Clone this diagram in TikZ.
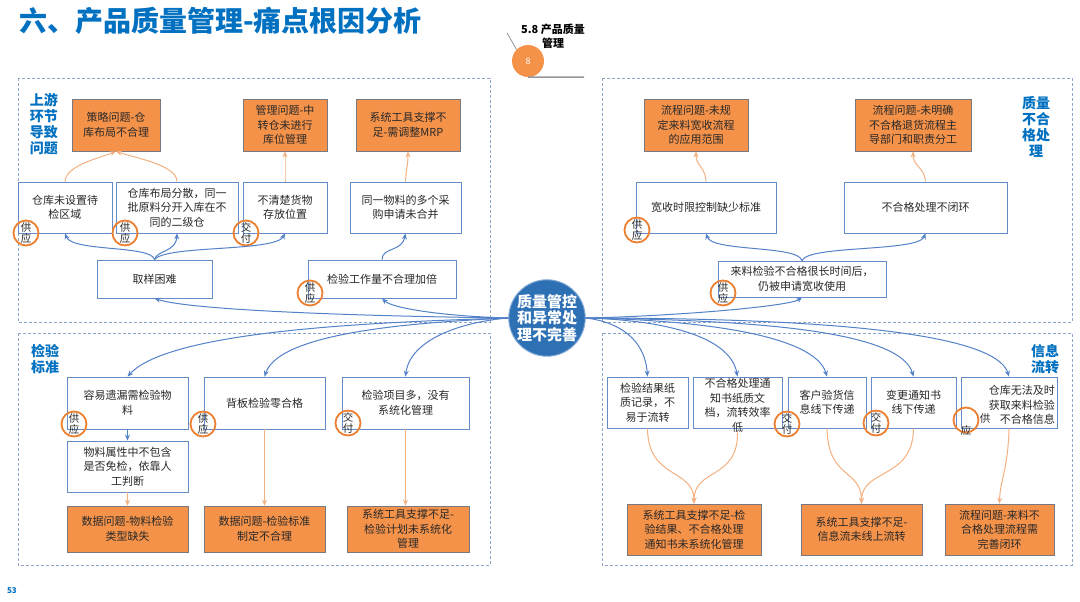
\documentclass[tikz,border=0pt]{standalone}
\usepackage{fontspec}
\setmainfont{Noto Sans CJK SC}
\usetikzlibrary{arrows.meta}
\definecolor{tblue}{RGB}{0,112,192}
\definecolor{lineblue}{RGB}{84,130,200}
\definecolor{boxblue}{RGB}{100,140,200}
\definecolor{dashc}{RGB}{140,165,200}
\definecolor{ofill}{RGB}{244,146,74}
\definecolor{oborder}{RGB}{120,120,130}
\definecolor{oarrow}{RGB}{244,176,128}
\definecolor{ring}{RGB}{236,128,48}
\definecolor{cfill}{RGB}{46,112,180}
\definecolor{cring}{RGB}{130,170,215}
\definecolor{txt}{RGB}{40,40,40}
\definecolor{ggray}{RGB}{150,150,150}
\tikzset{
 body/.style={font=\fontsize{11}{14.5}\selectfont, text=txt, align=center, inner sep=0pt},
 wbox/.style={body, draw=boxblue, line width=0.8pt, fill=white},
 obox/.style={body, draw=oborder, line width=0.6pt, fill=ofill},
 tag/.style={circle, draw=ring, line width=1.8pt, minimum size=25pt, inner sep=0pt, font=\fontsize{10.5}{11.5}\selectfont, align=center, text=txt},
 lab/.style={font=\bfseries\fontsize{14}{16}\selectfont, text=tblue, align=center, inner sep=0pt},
 quad/.style={draw=dashc, dash pattern=on 3pt off 2pt, line width=0.7pt},
 barrow/.style={draw=lineblue, line width=1pt, -{Stealth[length=6pt,width=5pt]}},
 oarr/.style={draw=oarrow, line width=1pt, -{Stealth[length=6pt,width=5pt]}},
}
\begin{document}
\begin{tikzpicture}[x=1pt,y=-1pt]
\useasboundingbox[fill=white] (0,0) rectangle (1080,602);

% title
\node[anchor=west, font=\bfseries\fontsize{28}{30}\selectfont, text=tblue, inner sep=0pt] (title) at (19,21) {六、产品质量管理-痛点根因分析};
\node[font=\bfseries\fontsize{11}{14}\selectfont, align=center, inner sep=0pt] (sec) at (553,36) {5.8 产品质量\\管理};
\node[circle, fill=ofill, minimum size=32pt, inner sep=0pt, text=white, font=\fontsize{9}{10}\selectfont] (eight) at (528,61) {8};
\coordinate (gl1) at (507,33);
\coordinate (gl2) at (584,77);
\draw[ggray, line width=0.8pt] (eight.135) -- (gl1);
\draw[ggray, line width=1.5pt] (eight.south) -- (gl2);

% quadrants
\draw[quad] (18,78) rectangle (490,322);
\draw[quad] (602,78) rectangle (1072,322);
\draw[quad] (18,333) rectangle (490,565);
\draw[quad] (602,333) rectangle (1072,565);

% labels
\node[lab] (lab1) at (44,124) {上游\\环节\\导致\\问题};
\node[lab] (lab2) at (1036,127) {质量\\不合\\格处\\理};
\node[lab] (lab3) at (45,359) {检验\\标准};
\node[lab] (lab4) at (1045,359) {信息\\流转};

% center
\node[circle, fill=cfill, draw=cring, line width=1pt, minimum size=70pt, inner sep=0pt, text=white, font=\bfseries\fontsize{15}{16.5}\selectfont, align=center] (c) at (547,318) {质量管控\\和异常处\\理不完善};

% top-left
\node[obox, minimum width=88, minimum height=52] (o1) at (116,125) {策略问题-仓\\库布局不合理};
\node[obox, minimum width=84, minimum height=52] (o2) at (285,125) {管理问题-中\\转仓未进行\\库位管理};
\node[obox, minimum width=104, minimum height=52] (o3) at (408,125) {系统工具支撑不\\足-需调整MRP};
\node[wbox, minimum width=94, minimum height=51] (w1) at (65,207.5) {仓库未设置待\\检区域};
\node[wbox, minimum width=122, minimum height=51] (w2) at (177,207.5) {仓库布局分散，同一\\批原料分开入库在不\\同的二级仓};
\node[wbox, minimum width=84, minimum height=51] (w3) at (285,207.5) {不清楚货物\\存放位置};
\node[wbox, minimum width=111, minimum height=51] (w4) at (405.5,207.5) {同一物料的多个采\\购申请未合并};
\node[wbox, minimum width=115, minimum height=38] (w5) at (154.5,279) {取样困难};
\node[wbox, minimum width=148, minimum height=38] (w6) at (382,279) {检验工作量不合理加倍};
\node[tag] (t1) at (26,233) {供\\应};
\node[tag] (t2) at (125,233) {供\\应};
\node[tag] (t3) at (246,233) {交\\付};
\node[tag] (t4) at (310,293) {供\\应};

\draw[oarr] (w1.north) .. controls (66,165) and (100,158) .. (o1.south);
\draw[oarr] (w2.north) .. controls (177,165) and (135,158) .. (o1.south);
\draw[oarr] (w3.north) .. controls (285,170) and (285,165) .. (o2.south);
\draw[oarr] (w4.north) .. controls (406,170) and (408,165) .. (o3.south);
\draw[barrow] (w5.north) .. controls (152,245) and (72,252) .. (w1.south);
\draw[barrow] (w5.north) .. controls (157,250) and (176,252) .. (w2.south);
\draw[barrow] (w5.north) .. controls (165,245) and (275,252) .. (w3.south);
\draw[barrow] (w6.north) .. controls (382,247) and (402,252) .. (w4.south);

% top-right
\node[obox, minimum width=104, minimum height=52] (o4) at (696,125) {流程问题-未规\\定来料宽收流程\\的应用范围};
\node[obox, minimum width=116, minimum height=52] (o5) at (913,125) {流程问题-未明确\\不合格退货流程主\\导部门和职责分工};
\node[wbox, minimum width=140, minimum height=51] (w7) at (706,207.5) {宽收时限控制缺少标准};
\node[wbox, minimum width=163, minimum height=51] (w8) at (925.5,207.5) {不合格处理不闭环};
\node[wbox, minimum width=168, minimum height=36] (w9) at (802,279) {来料检验不合格很长时间后，\\仍被申请宽收使用};
\node[tag] (t5) at (637,230) {供\\应};
\node[tag] (t6) at (723,293) {供\\应};
\draw[oarr] (w7.north) .. controls (706,168) and (696,166) .. (o4.south);
\draw[oarr] (w8.north) .. controls (925,168) and (913,166) .. (o5.south);
\draw[barrow] (w9.north) .. controls (798,245) and (712,252) .. (w7.south);
\draw[barrow] (w9.north) .. controls (808,245) and (918,252) .. (w8.south);

% bottom-left
\node[wbox, minimum width=121, minimum height=52] (w10) at (127.5,403) {容易遗漏需检验物\\料};
\node[wbox, minimum width=121, minimum height=51] (w11) at (127.5,466.5) {物料属性中不包含\\是否免检，依靠人\\工判断};
\node[obox, minimum width=121, minimum height=46] (o6) at (127.5,529) {数据问题-物料检验\\类型缺失};
\node[wbox, minimum width=121, minimum height=52] (w12) at (264.5,403) {背板检验零合格};
\node[obox, minimum width=121, minimum height=46] (o7) at (264.5,529) {数据问题-检验标准\\制定不合理};
\node[wbox, minimum width=127, minimum height=52] (w13) at (405.5,403) {检验项目多，没有\\系统化管理};
\node[obox, minimum width=122, minimum height=46] (o8) at (408,529) {系统工具支撑不足-\\检验计划未系统化\\管理};
\node[tag] (t7) at (74,424) {供\\应};
\node[tag] (t8) at (203,424) {供\\应};
\node[tag] (t9) at (348,423) {交\\付};
\draw[barrow] (w10.south) -- (w11.north);
\draw[oarr] (w11.south) -- (o6.north);
\draw[oarr] (w12.south) -- (o7.north);
\draw[oarr] (w13.south) -- (w13.south |- o8.north);

% bottom-right
\node[wbox, minimum width=81, minimum height=51] (w14) at (647.5,402.5) {检验结果纸\\质记录，不\\易于流转};
\node[wbox, minimum width=89, minimum height=51] (w15) at (737.5,402.5) {};
\node[body] (w15t) at (737.5,405.5) {不合格处理通\\知书纸质文\\档，流转效率\\低};
\node[wbox, minimum width=78, minimum height=51] (w16) at (827,402.5) {客户验货信\\息线下传递};
\node[wbox, minimum width=85, minimum height=51] (w17) at (913.5,402.5) {变更通知书\\线下传递};
\node[wbox, minimum width=96, minimum height=51] (w18) at (1009,402.5) {};
\node[body, anchor=east, align=right] (w18t) at (1055,405) {仓库无法及时\\获取来料检验\\不合格信息};
\node[obox, minimum width=134, minimum height=51] (o9) at (694,529.5) {系统工具支撑不足-检\\验结果、不合格处理\\通知书未系统化管理};
\node[obox, minimum width=121, minimum height=51] (o10) at (861.5,529.5) {系统工具支撑不足-\\信息流未线上流转};
\node[obox, minimum width=109, minimum height=51] (o11) at (999.5,529.5) {流程问题-来料不\\合格处理流程需\\完善闭环};
\node[tag] (t10) at (787,424) {交\\付};
\node[tag] (t11) at (876,423) {交\\付};
\node[tag] (t12) at (966,420) {};
\node[body, font=\fontsize{10.5}{11}\selectfont] (t12a) at (985,419) {供};
\node[body, font=\fontsize{10.5}{11}\selectfont] (t12b) at (966,431) {应};
\draw[oarr] (w14.south) .. controls (648,480) and (694,468) .. (o9.north);
\draw[oarr] (w15t.south) .. controls (738,480) and (694,468) .. (o9.north);
\draw[oarr] (w16.south) .. controls (828,480) and (861,468) .. (o10.north);
\draw[oarr] (w17.south) .. controls (913,480) and (862,468) .. (o10.north);
\draw[oarr] (w18.south) .. controls (1008,470) and (1000,480) .. (o11.north);

% center connectors
\draw[barrow] (c.west) .. controls (350,316) and (190,310) .. (w5.south);
\draw[barrow] (c.west) .. controls (440,316) and (392,308) .. (w6.south);
\draw[barrow] (c.west) .. controls (380,322) and (170,330) .. (w10.north);
\draw[barrow] (c.west) .. controls (430,322) and (280,330) .. (w12.north);
\draw[barrow] (c.west) .. controls (460,322) and (410,340) .. (w13.north);
\draw[barrow] (c.east) .. controls (680,316) and (790,306) .. (w9.south);
\draw[barrow] (c.east) .. controls (620,322) and (645,340) .. (w14.north);
\draw[barrow] (c.east) .. controls (660,320) and (730,335) .. (w15.north);
\draw[barrow] (c.east) .. controls (700,320) and (815,335) .. (w16.north);
\draw[barrow] (c.east) .. controls (750,320) and (900,330) .. (w17.north);
\draw[barrow] (c.east) .. controls (800,318) and (995,330) .. (w18.north);

% page number
\node[font=\bfseries\fontsize{8}{9}\selectfont, text=tblue, inner sep=0pt] (pg) at (12,591) {53};
\end{tikzpicture}
\end{document}
